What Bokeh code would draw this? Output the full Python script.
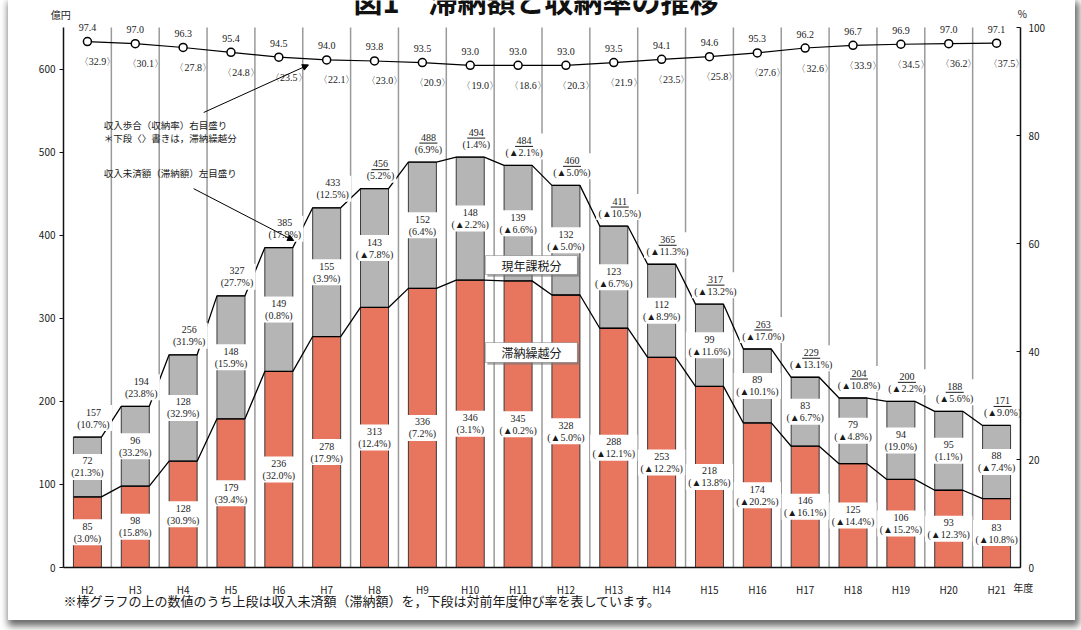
from bokeh.plotting import figure
from bokeh.models import (ColumnDataSource, Range1d, LinearAxis, FixedTicker,
                          LabelSet, Label, Arrow, NormalHead, BoxAnnotation)
from bokeh.embed import file_html
from bokeh.resources import INLINE

# ---------------- data ----------------
years = ["H2", "H3", "H4", "H5", "H6", "H7", "H8", "H9", "H10", "H11",
         "H12", "H13", "H14", "H15", "H16", "H17", "H18", "H19", "H20", "H21"]
carried = [85, 98, 128, 179, 236, 278, 313, 336, 346, 345,
           328, 288, 253, 218, 174, 146, 125, 106, 93, 83]          # 滞納繰越分
carried_growth = [3.0, 15.8, 30.9, 39.4, 32.0, 17.9, 12.4, 7.2, 3.1, -0.2,
                  -5.0, -12.1, -12.2, -13.8, -20.2, -16.1, -14.4, -15.2, -12.3, -10.8]
current = [72, 96, 128, 148, 149, 155, 143, 152, 148, 139,
           132, 123, 112, 99, 89, 83, 79, 94, 95, 88]               # 現年課税分
current_growth = [21.3, 33.2, 32.9, 15.9, 0.8, 3.9, -7.8, 6.4, -2.2, -6.6,
                  -5.0, -6.7, -8.9, -11.6, -10.1, -6.7, -4.8, 19.0, 1.1, -7.4]
total = [157, 194, 256, 327, 385, 433, 456, 488, 494, 484,
         460, 411, 365, 317, 263, 229, 204, 200, 188, 171]          # 収入未済額
total_growth = [10.7, 23.8, 31.9, 27.7, 17.9, 12.5, 5.2, 6.9, 1.4, -2.1,
                -5.0, -10.5, -11.3, -13.2, -17.0, -13.1, -10.8, -2.2, -5.6, -9.0]
total_underlined = [False] * 6 + [True] * 14
collection_rate = [97.4, 97.0, 96.3, 95.4, 94.5, 94.0, 93.8, 93.5, 93.0, 93.0,
                   93.0, 93.5, 94.1, 94.6, 95.3, 96.2, 96.7, 96.9, 97.0, 97.1]   # 収入歩合
carried_rate = [32.9, 30.1, 27.8, 24.8, 23.5, 22.1, 23.0, 20.9, 19.0, 18.6,
                20.3, 21.9, 23.5, 25.8, 27.6, 32.6, 33.9, 34.5, 36.2, 37.5]      # 滞納繰越分の収入歩合
left_ticks = [0, 100, 200, 300, 400, 500, 600]
right_ticks = [0, 20, 40, 60, 80, 100]

FONT = "Noto Sans CJK JP"
RED = "#e8765f"
GRAY = "#b5b5b5"
TXT = "#1a1a1a"
BAR_W = 0.585

OX = 8                      # page starts 8px from the window's left edge
W, H = 1075 - OX, 620
# frame geometry (window pixels): plot area left 63, right 1020, top 27, bottom 567
PX_L, PX_R, PX_T, PX_B = 63 - OX, 1020 - OX, 27, 567
n = len(years)
LMAX, RMAX = 650, 100
kx = (PX_R - PX_L) / n
ky = (PX_B - PX_T) / LMAX
kr = (PX_B - PX_T) / RMAX
TOT_DX = 6                  # total labels sit slightly right of the bar centre (px)

CHAR_W = {".": 2.6, "%": 8.2, "(": 3.3, ")": 3.3, "▲": 10.0}


def pct(v):
    return "(" + ("▲" if v < 0 else "") + f"{abs(v):.1f}%)"


def box_w(*texts):
    return max(sum(CHAR_W.get(ch, 5.6) for ch in t) for t in texts) + 3


xc = [i + 0.5 for i in range(n)]
num_carried = [str(c) for c in carried]
pct_carried = [pct(g) for g in carried_growth]
num_current = [str(c) for c in current]
pct_current = [pct(g) for g in current_growth]
num_total = [str(t) for t in total]
pct_total = [pct(g) for g in total_growth]

src = ColumnDataSource(dict(
    x=xc, carried=carried, current=current, total=total,
    x_tot=[x + TOT_DX / kx for x in xc],
    y_totbox=[t + 19 / ky for t in total],
    mid_carried=[c / 2 for c in carried],
    mid_current=[c + g / 2 for c, g in zip(carried, current)],
    num_carried=num_carried, pct_carried=pct_carried,
    num_current=num_current, pct_current=pct_current,
    num_total=num_total, pct_total=pct_total,
    w_carried=[max(box_w(a, b), 29) for a, b in zip(num_carried, pct_carried)],
    w_current=[max(box_w(a, b), 29) for a, b in zip(num_current, pct_current)],
    w_total=[box_w(a, b) for a, b in zip(num_total, pct_total)],
    rate=collection_rate,
    lab_rate=[f"{r:.1f}" for r in collection_rate],
    lab_crate=[f"〈{r:.1f}〉" for r in carried_rate],
))

p = figure(width=W, height=H, output_backend="svg", toolbar_location=None,
           x_range=Range1d(-PX_L / kx, n + (W - PX_R) / kx),
           y_range=Range1d(-(H - PX_B) / ky, LMAX + PX_T / ky),
           x_axis_type=None, y_axis_type=None, min_border=0)
p.outline_line_color = None
p.background_fill_color = "white"
p.border_fill_color = "white"
p.extra_y_ranges = {"rate": Range1d(-(H - PX_B) / kr, RMAX + PX_T / kr)}

# vertical separators between fiscal years
p.segment(x0=list(range(1, n)), y0=0, x1=list(range(1, n)), y1=LMAX,
          line_color="#9a9a9a", line_width=1.5)

# axes (fixed inside the frame)
lax = LinearAxis(fixed_location=0, bounds=(0, LMAX), ticker=FixedTicker(ticks=left_ticks))
lax.major_tick_out = 4
lax.major_tick_in = 0
lax.major_label_standoff = 4
bax = LinearAxis(fixed_location=0, bounds=(0, n), ticker=FixedTicker(ticks=xc))
bax.major_label_overrides = {x: y for x, y in zip(xc, years)}
bax.major_tick_line_color = None
bax.major_label_standoff = 8
rax = LinearAxis(y_range_name="rate", fixed_location=n, bounds=(0, RMAX),
                 ticker=FixedTicker(ticks=right_ticks))
rax.major_tick_in = 4
rax.major_tick_out = 0
rax.major_label_standoff = 8
for ax in [lax, bax, rax]:
    ax.axis_line_color = "#111111"
    ax.axis_line_width = 1.5
    ax.minor_tick_line_color = None
    if ax is not bax:
        ax.major_tick_line_color = "#111111"
        ax.major_tick_line_width = 1.2
    ax.major_label_text_font = FONT
    ax.major_label_text_font_size = "10px"
    ax.major_label_text_color = TXT
p.add_layout(lax, "left")
p.add_layout(bax, "below")
p.add_layout(rax, "right")

# bars
p.vbar(x="x", bottom=0, top="carried", width=BAR_W, source=src,
       fill_color=RED, line_color="#3a3a3a", line_width=1)
p.vbar(x="x", bottom="carried", top="total", width=BAR_W, source=src,
       fill_color=GRAY, line_color="#3a3a3a", line_width=1)

# series lines joining bar tops
sx, st, sc = [], [], []
for i in range(n):
    sx += [xc[i] - BAR_W / 2, xc[i] + BAR_W / 2]
    st += [total[i], total[i]]
    sc += [carried[i], carried[i]]
p.line(sx, st, line_color="black", line_width=1.3)
p.line(sx, sc, line_color="black", line_width=1.3)

# collection rate line
p.line("x", "rate", source=src, y_range_name="rate", line_color="black", line_width=1.2)
p.scatter("x", "rate", source=src, y_range_name="rate", size=8,
          fill_color="white", line_color="black", line_width=1.5)

# white boxes behind the value labels
box = dict(source=src, height=26, width_units="screen", height_units="screen",
           fill_color="white", line_color=None)
p.rect(x="x", y="mid_carried", width="w_carried", **box)
p.rect(x="x", y="mid_current", width="w_current", **box)
p.rect(x="x_tot", y="y_totbox", width="w_total", **box)

common = dict(source=src, text_font=FONT, text_font_size="10px", text_color=TXT,
              text_align="center", text_baseline="middle")
# value labels inside the bars (number over growth rate)
p.add_layout(LabelSet(x="x", y="mid_carried", text="num_carried", y_offset=6, **common))
p.add_layout(LabelSet(x="x", y="mid_carried", text="pct_carried", y_offset=-6, **common))
p.add_layout(LabelSet(x="x", y="mid_current", text="num_current", y_offset=6, **common))
p.add_layout(LabelSet(x="x", y="mid_current", text="pct_current", y_offset=-6, **common))
# totals above the bars
p.add_layout(LabelSet(x="x", y="total", text="num_total", x_offset=TOT_DX, y_offset=25, **common))
p.add_layout(LabelSet(x="x", y="total", text="pct_total", x_offset=TOT_DX, y_offset=13, **common))
# collection rate labels
p.add_layout(LabelSet(x="x", y="rate", text="lab_rate", y_range_name="rate",
                      y_offset=14, **common))
p.add_layout(LabelSet(x="x", y="rate", text="lab_crate", y_range_name="rate",
                      x_offset=10, y_offset=-20, **common))

# underline of the total value (from H8 on)
ux0, ux1, uy = [], [], []
for i in range(n):
    if total_underlined[i]:
        ux0.append(xc[i] + (TOT_DX - 9) / kx)
        ux1.append(xc[i] + (TOT_DX + 9) / kx)
        uy.append(total[i] + 19 / ky)
p.segment(x0=ux0, y0=uy, x1=ux1, y1=uy, line_color=TXT, line_width=1, level="overlay")

# series name boxes
for (b, t, txt) in [(352.6, 375.5, "現年課税分"), (246.7, 270.8, "滞納繰越分")]:
    p.add_layout(BoxAnnotation(left=8.86, right=10.78, bottom=b - 2.5, top=t - 2.5,
                               fill_color="#777777", fill_alpha=0.6, line_color=None))
    p.add_layout(BoxAnnotation(left=8.82, right=10.74, bottom=b, top=t,
                               fill_color="white", fill_alpha=1, line_color="#222222", line_width=1))
    p.add_layout(Label(x=9.78, y=(b + t) / 2, text=txt, text_font=FONT, text_font_size="12px",
                       text_color=TXT, text_align="center", text_baseline="middle"))

# notes and arrows
notes = [(0.84, 533.2, "収入歩合（収納率）右目盛り"),
         (0.84, 517.5, "＊下段〈〉書きは，滞納繰越分"),
         (0.84, 475.4, "収入未済額（滞納額）左目盛り")]
for x, y, t in notes:
    p.add_layout(Label(x=x, y=y, text=t, text_font=FONT, text_font_size="9.5px",
                       text_color=TXT, text_align="left", text_baseline="middle"))
p.add_layout(Arrow(x_start=2.93, y_start=547.7, x_end=5.12, y_end=605,
                   line_width=1, line_color="black",
                   end=NormalHead(size=6, fill_color="black", line_color="black")))
p.add_layout(Arrow(x_start=2.72, y_start=456, x_end=4.81, y_end=393.6,
                   line_width=1, line_color="black",
                   end=NormalHead(size=6, fill_color="black", line_color="black")))

# axis titles, title, footnote
p.add_layout(Label(x=-0.06, y=665.6, text="億円", text_font=FONT, text_font_size="10px",
                   text_color=TXT, text_align="center", text_baseline="middle"))
p.add_layout(Label(x=20.04, y=666.8, text="%", text_font=FONT, text_font_size="10px",
                   text_color=TXT, text_align="center", text_baseline="middle"))
p.add_layout(Label(x=20.06, y=-24.1, text="年度", text_font=FONT, text_font_size="10px",
                   text_color=TXT, text_align="center", text_baseline="middle"))
p.add_layout(Label(x=6.06, y=683.7, text="図1　滞納額と収納率の推移", text_font=FONT,
                   text_font_size="29px", text_font_style="bold", text_color="#111111",
                   text_align="left", text_baseline="middle"))
p.add_layout(Label(x=0, y=-39.7,
                   text="※棒グラフの上の数値のうち上段は収入未済額（滞納額）を，下段は対前年度伸び率を表しています。",
                   text_font=FONT, text_font_size="13px", text_color=TXT,
                   text_align="left", text_baseline="middle"))

p.styles = {"margin-left": f"{OX}px", "box-shadow": "2px 4px 7px 2px #6a6a6a"}

open("out.html", "w").write(file_html(p, INLINE))
